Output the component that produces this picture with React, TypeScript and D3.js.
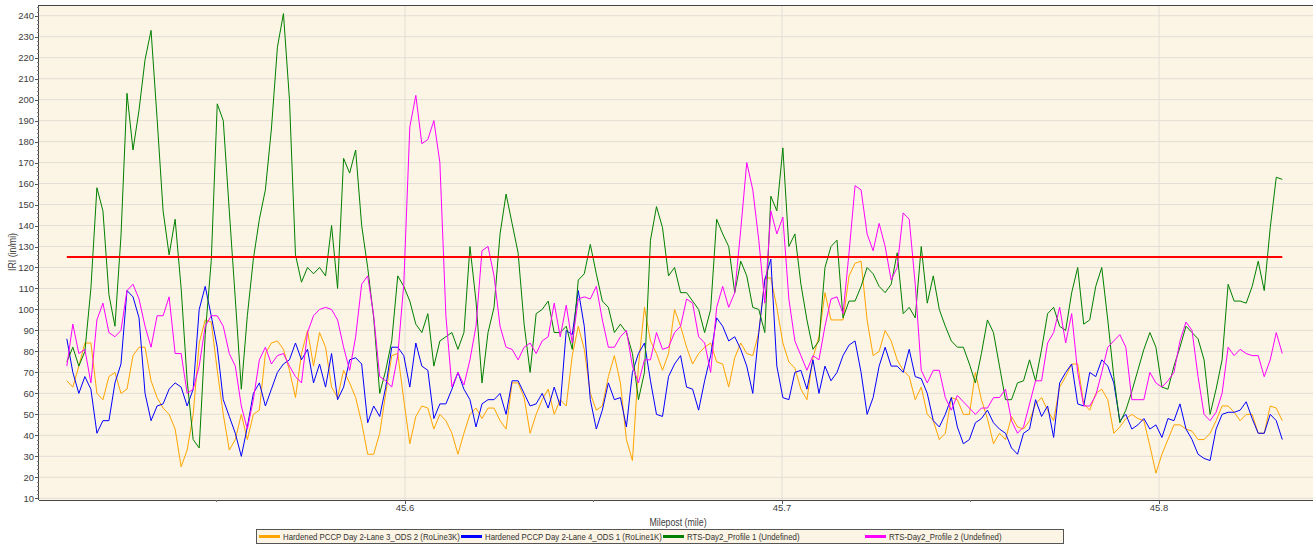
import * as d3 from "d3";
import React from "react";

// sampled IRI values, left to right along the milepost range
const mileStart = 45.5103;
const mileEnd = 45.8327;

const laneThree = [
  66, 63, 73, 84, 84, 60, 57, 68, 70, 60, 62,
  78, 82, 82, 66, 58, 53, 50, 43, 25, 33,
  50, 84, 95, 94, 71, 50, 33, 38, 50, 38,
  50, 52, 79, 84, 85, 81, 71, 58, 79, 90,
  73, 89, 82, 63, 58, 71, 65, 58, 46, 31,
  31, 41, 60, 78, 79, 57, 36, 49, 54, 53,
  43, 50, 47, 41, 31, 41, 50, 53, 48, 53,
  53, 47, 43, 65, 65, 58, 41, 50, 57, 62,
  50, 57, 54, 78, 92, 81, 60, 52, 54, 68,
  78, 65, 38, 28, 73, 101, 85, 79, 71, 79,
  100, 92, 82, 74, 79, 82, 84, 75, 74, 63,
  77, 84, 79, 78, 89, 115, 115, 101, 84, 75,
  72, 62, 57, 77, 87, 108, 95, 95, 95, 116,
  122, 123, 95, 78, 80, 90, 85, 76, 71, 68,
  57, 63, 50, 47, 38, 41, 58, 57, 50, 50,
  70, 57, 48, 36, 41, 38, 49, 44, 43, 47,
  55, 58, 52, 47, 63, 68, 74, 74, 55, 52,
  60, 62, 57, 41, 44, 48, 50, 48, 47, 35,
  22, 31, 38, 45, 45, 43, 42, 38, 38, 41,
  47, 54, 54, 51, 47, 50, 50, 41, 41, 54, 53, 47,
];

const laneFour = [
  86, 70, 60, 68, 62, 41, 47, 47, 65, 74, 109,
  106, 96, 60, 47, 54, 55, 62, 65, 63, 54,
  62, 100, 111, 97, 82, 57, 49, 41, 30, 44,
  60, 65, 54, 62, 70, 74, 76, 84, 76, 81,
  65, 74, 63, 79, 57, 63, 76, 77, 74, 46,
  54, 49, 63, 82, 82, 78, 63, 84, 73, 71,
  48, 55, 55, 62, 70, 62, 57, 44, 55, 57,
  57, 60, 50, 66, 66, 60, 54, 55, 60, 53,
  63, 54, 90, 88, 109, 92, 57, 43, 52, 65,
  57, 58, 44, 70, 79, 84, 66, 50, 49, 68,
  74, 78, 63, 62, 52, 66, 78, 96, 92, 85,
  87, 81, 73, 60, 89, 114, 124, 73, 58, 57,
  70, 71, 62, 76, 60, 73, 66, 70, 78, 83,
  85, 70, 50, 58, 73, 82, 73, 73, 70, 81,
  68, 67, 60, 47, 44, 50, 58, 44, 36, 38,
  46, 48, 52, 46, 43, 41, 34, 31, 41, 43,
  57, 49, 54, 39, 65, 70, 74, 55, 54, 70,
  68, 76, 73, 65, 47, 50, 43, 45, 48, 43,
  45, 39, 48, 47, 55, 43, 38, 31, 29, 28,
  43, 50, 51, 51, 52, 56, 48, 41, 41, 50, 47, 38,
];

const profileOne = [
  75, 82, 73, 80, 110, 158, 147, 107, 92, 135, 203,
  176, 195, 219, 233, 191, 147, 126, 143, 110, 66,
  38, 34, 88, 123, 198, 190, 147, 105, 62, 97,
  124, 143, 157, 186, 225, 241, 200, 126, 113, 120,
  117, 120, 116, 140, 110, 172, 165, 176, 140, 120,
  96, 60, 71, 85, 116, 111, 104, 93, 89, 98,
  73, 85, 87, 89, 81, 89, 130, 104, 65, 89,
  101, 136, 155, 141, 127, 93, 70, 98, 100, 104,
  89, 89, 92, 81, 114, 117, 131, 117, 104, 101,
  89, 93, 89, 79, 57, 70, 133, 149, 139, 116,
  120, 108, 108, 104, 100, 89, 100, 143, 136, 130,
  108, 123, 116, 101, 100, 89, 154, 147, 177, 130,
  136, 112, 95, 81, 85, 120, 130, 133, 96, 104,
  104, 111, 120, 117, 111, 108, 112, 127, 98, 101,
  96, 130, 103, 116, 100, 92, 85, 82, 82, 74,
  65, 79, 95, 89, 73, 57, 57, 65, 66, 76,
  66, 81, 98, 101, 92, 90, 108, 120, 93, 95,
  111, 120, 95, 68, 46, 52, 61, 71, 81, 89,
  82, 63, 62, 73, 82, 92, 89, 86, 76, 50,
  62, 76, 112, 104, 104, 103, 111, 123, 109, 139, 163, 162,
];

const profileTwo = [
  73, 93, 79, 81, 65, 95, 103, 89, 87, 90, 109,
  112, 105, 92, 82, 97, 97, 106, 79, 79, 60,
  62, 73, 92, 97, 97, 92, 79, 73, 54, 43,
  57, 76, 82, 74, 78, 79, 73, 68, 65, 89,
  97, 100, 101, 100, 95, 82, 71, 87, 112, 116,
  97, 68, 66, 63, 78, 112, 187, 202, 179, 181,
  190, 170, 97, 63, 70, 64, 76, 92, 128, 130,
  116, 92, 82, 81, 76, 82, 84, 79, 85, 87,
  103, 87, 102, 84, 105, 106, 105, 111, 95, 82,
  82, 87, 90, 73, 65, 76, 76, 89, 81, 82,
  89, 92, 105, 103, 87, 84, 70, 101, 111, 101,
  108, 138, 170, 157, 133, 103, 147, 136, 144, 105,
  85, 78, 71, 78, 76, 92, 105, 106, 98, 127,
  159, 157, 136, 128, 141, 130, 114, 120, 146, 143,
  112, 71, 65, 71, 71, 58, 52, 59, 56, 53,
  50, 53, 53, 58, 58, 62, 47, 41, 44, 55,
  66, 66, 84, 89, 101, 84, 98, 70, 54, 54,
  59, 70, 82, 85, 88, 82, 57, 57, 57, 70,
  65, 63, 66, 70, 85, 94, 90, 68, 50, 47,
  51, 60, 82, 78, 81, 79, 78, 78, 68, 76, 89, 79,
];

const seriesNames = [
  "Hardened PCCP Day 2-Lane 3_ODS 2 (RoLine3K)",
  "Hardened PCCP Day 2-Lane 4_ODS 1 (RoLine1K)",
  "RTS-Day2_Profile 1 (Undefined)",
  "RTS-Day2_Profile 2 (Undefined)",
];
const seriesColors = ["#ffa500", "#0000ff", "#008000", "#ff00ff"];
const threshold = 125;

const yTicks = d3.range(10, 241, 10);
const yMinor = d3.range(10, 245, 2).filter((v) => v % 10 !== 0);
const xTicks = [45.6, 45.7, 45.8];
const xMinor = [45.55, 45.65, 45.75];

const font = "'Liberation Sans', Arial, sans-serif";

export default function App() {
  const width = 1314;
  const height = 546;
  const left = 39;
  const right = 1313;
  const top = 5;
  const bottom = 500;

  const x = d3.scaleLinear().domain([45.50292, 45.84085]).range([left, right]);
  const y = d3.scaleLinear().domain([9.19, 245.1]).range([bottom, top]);

  const allSeries = [laneThree, laneFour, profileOne, profileTwo];
  const n = laneThree.length;
  const miles = d3.range(n).map((i) => mileStart + ((mileEnd - mileStart) * i) / (n - 1));

  const line = d3
    .line<number>()
    .x((d, i) => x(miles[i]))
    .y((d) => y(d));

  return (
    <svg
      width={width}
      height={height}
      style={{ position: "absolute", left: 0, top: 0, background: "#fff" }}
      fontFamily={font}
    >
      <rect x={left} y={top} width={right - left} height={bottom - top} fill="#fcf4e4" />

      {/* grid */}
      {yTicks.map((t) => (
        <line key={"gy" + t} x1={left} x2={right} y1={y(t)} y2={y(t)} stroke="#e3ded6" strokeWidth={1} />
      ))}
      {xTicks.map((t) => (
        <line key={"gx" + t} x1={x(t)} x2={x(t)} y1={top} y2={bottom} stroke="#e3ded6" strokeWidth={1} />
      ))}

      {/* series */}
      {allSeries.map((s, i) => (
        <path key={seriesNames[i]} d={line(s) ?? ""} fill="none" stroke={seriesColors[i]} strokeWidth={1} strokeLinejoin="round" />
      ))}

      {/* threshold */}
      <line
        x1={x(mileStart)}
        x2={x(mileEnd)}
        y1={y(threshold)}
        y2={y(threshold)}
        stroke="#ff0000"
        strokeWidth={2}
      />

      {/* frame / axes */}
      <line x1={left} x2={right} y1={top + 0.5} y2={top + 0.5} stroke="#444" />
      <line x1={left - 0.5} x2={left - 0.5} y1={top} y2={bottom} stroke="#444" />
      <line x1={left} x2={right} y1={bottom + 0.5} y2={bottom + 0.5} stroke="#444" />

      {yTicks.map((t) => (
        <g key={"yt" + t}>
          <line x1={left - 4} x2={left} y1={Math.round(y(t)) + 0.5} y2={Math.round(y(t)) + 0.5} stroke="#555" />
          <text x={left - 5} y={y(t)} dy="0.35em" textAnchor="end" fontSize={9.5} fill="#404040">
            {t}
          </text>
        </g>
      ))}
      {yMinor.map((t) => (
        <line key={"ym" + t} x1={left - 2} x2={left} y1={Math.round(y(t)) + 0.5} y2={Math.round(y(t)) + 0.5} stroke="#777" />
      ))}

      {xTicks.map((t) => (
        <g key={"xt" + t}>
          <line x1={Math.round(x(t)) + 0.5} x2={Math.round(x(t)) + 0.5} y1={bottom} y2={bottom + 4} stroke="#555" />
          <text x={x(t)} y={511} textAnchor="middle" fontSize={9.5} fill="#404040">
            {t}
          </text>
        </g>
      ))}
      {xMinor.map((t) => (
        <line key={"xm" + t} x1={Math.round(x(t)) + 0.5} x2={Math.round(x(t)) + 0.5} y1={bottom} y2={bottom + 2} stroke="#777" />
      ))}

      <text transform="translate(678,526) scale(0.88,1)" textAnchor="middle" fontSize={10} fill="#404040">
        Milepost (mile)
      </text>
      <text transform="translate(16,252) rotate(-90) scale(0.88,1)" textAnchor="middle" fontSize={10} fill="#404040">
        IRI (in/mi)
      </text>

      {/* legend */}
      <rect x={256.5} y={529.5} width={807} height={14} fill="#fcf4e4" stroke="#555" />
      {seriesNames.map((name, i) => (
        <g key={"lg" + i} transform={`translate(${259 + i * 202},0)`}>
          <line x1={0} x2={21} y1={536.5} y2={536.5} stroke={seriesColors[i]} strokeWidth={3} />
          <text transform="translate(24,540) scale(0.8,1)" fontSize={9.8} fill="#333">
            {name}
          </text>
        </g>
      ))}
    </svg>
  );
}
